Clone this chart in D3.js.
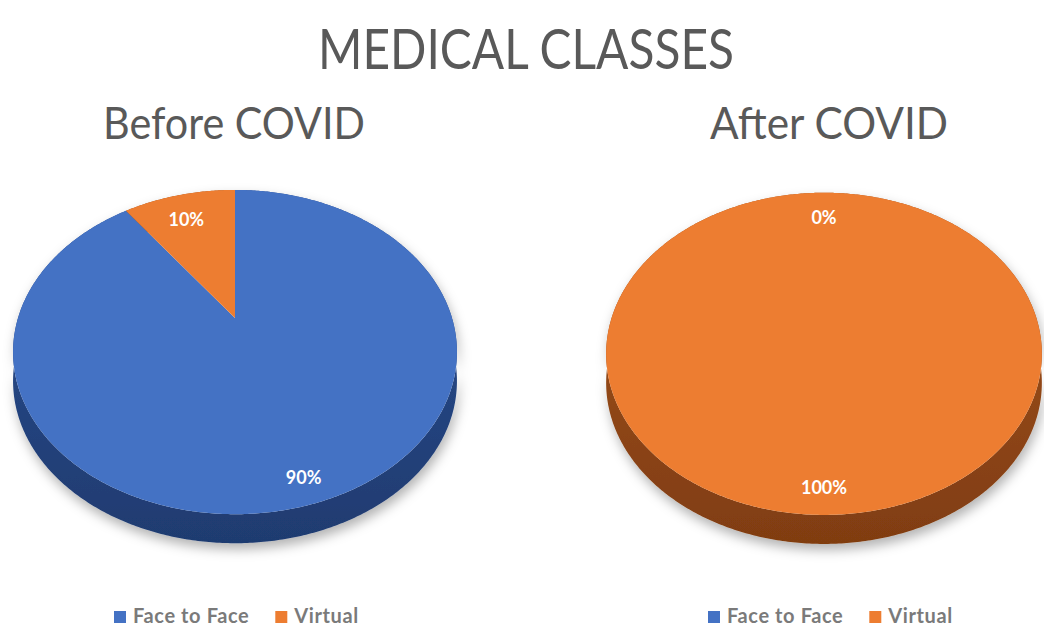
<!DOCTYPE html>
<html>
<head>
<meta charset="utf-8">
<script src="https://cdn.jsdelivr.net/npm/d3@7"></script>
<style>
  body { margin: 0; background: #fff; }
  svg { display: block; font-family: Lato, "Open Sans", sans-serif; }
</style>
</head>
<body>
<svg id="chart" width="1044" height="628"></svg>
<script>
const categories = ['Face to Face', 'Virtual'];
const pieTitles = ['Before COVID', 'After COVID'];
const beforeValues = [90, 10];
const afterValues = [0, 100];
const colors = ['#4472c4', '#ed7d31'];
const sideTop = ['#2c5093', '#a5531d'];
const sideBottom = ['#1f3b70', '#803d11'];

const svg = d3.select('#chart');

// perspective settings for the tilted pies
const K = 0.21, DEPTH = 29, LABEL_R = 0.85;
const pies = [
  { title: pieTitles[0], values: beforeValues, cx: 235, cy: 318, a: 217, b: 155, tx: 234, tw: 262, lx: 114 },
  { title: pieTitles[1], values: afterValues, cx: 824, cy: 320, a: 213, b: 154, tx: 829, tw: 238, lx: 708 }
];

const defs = svg.append('defs');
defs.append('filter')
  .attr('id', 'shadow')
  .attr('x', '-20%').attr('y', '-20%').attr('width', '140%').attr('height', '150%')
  .append('feDropShadow')
  .attr('dx', 2).attr('dy', 6).attr('stdDeviation', 6)
  .attr('flood-color', '#000').attr('flood-opacity', 0.3);
colors.forEach((c, i) => {
  let g = defs.append('linearGradient')
    .attr('id', `side-${i}`)
    .attr('x1', 0).attr('y1', 0).attr('x2', 0).attr('y2', 1);
  g.append('stop').attr('offset', '0%').attr('stop-color', sideTop[i]);
  g.append('stop').attr('offset', '100%').attr('stop-color', sideBottom[i]);
});

svg.append('text')
  .attr('x', 526).attr('y', 69)
  .attr('text-anchor', 'middle')
  .attr('font-size', 56)
  .attr('textLength', 416).attr('lengthAdjust', 'spacingAndGlyphs')
  .attr('fill', '#595959')
  .text('MEDICAL CLASSES');

const pie = d3.pie().sort(null).value(d => d);
const line = d3.line();

pies.forEach(p => {
  function proj(t, r) {
    let u = Math.sin(t) * r, v = -Math.cos(t) * r, w = 1 - K * v;
    return [p.cx + p.a * u / w, p.cy + p.b * v / w];
  }
  function arcPoints(a0, a1, r) {
    let n = Math.max(2, Math.ceil((a1 - a0) / 0.01));
    return d3.range(n + 1).map(i => proj(a0 + (a1 - a0) * i / n, r));
  }

  let arcs = pie(p.values),
    g = svg.append('g');

  g.append('text')
    .attr('x', p.tx).attr('y', 139)
    .attr('text-anchor', 'middle')
    .attr('font-size', 44)
    .attr('textLength', p.tw).attr('lengthAdjust', 'spacingAndGlyphs')
    .attr('fill', '#595959')
    .text(p.title);

  // side walls, drawn first so the top faces cover the back
  let sides = g.append('g').attr('filter', 'url(#shadow)');
  arcs.forEach((d, i) => {
    if (d.endAngle - d.startAngle <= 0) return;
    let top = arcPoints(d.startAngle, d.endAngle, 1),
      bottom = top.map(([x, y]) => [x, y + DEPTH]).reverse();
    sides.append('path')
      .attr('d', line(top.concat(bottom)) + 'Z')
      .attr('fill', `url(#side-${i})`);
  });

  arcs.forEach((d, i) => {
    if (d.endAngle - d.startAngle <= 0) return;
    let pts = arcPoints(d.startAngle, d.endAngle, 1);
    if (d.endAngle - d.startAngle < 2 * Math.PI - 1e-6) pts.push(proj(0, 0));
    g.append('path')
      .attr('d', line(pts) + 'Z')
      .attr('fill', colors[i]);
  });

  arcs.forEach(d => {
    let [x, y] = proj((d.startAngle + d.endAngle) / 2, LABEL_R);
    g.append('text')
      .attr('x', x).attr('y', y + 15)
      .attr('text-anchor', 'middle')
      .attr('font-size', 18)
      .attr('font-weight', 'bold')
      .attr('fill', '#fff')
      .text(d.data + '%');
  });

  // legend
  let lg = g.append('g').attr('transform', `translate(${p.lx},0)`),
    x = 0;
  categories.forEach((c, i) => {
    lg.append('rect')
      .attr('x', x).attr('y', 611)
      .attr('width', 12).attr('height', 12)
      .attr('fill', colors[i]);
    let t = lg.append('text')
      .attr('x', x + 19).attr('y', 623)
      .attr('font-size', 20)
      .attr('font-weight', 'bold')
      .attr('letter-spacing', 0.6)
      .attr('fill', '#7a7a7a')
      .text(c);
    x += 19 + t.node().getComputedTextLength() + 26;
  });
});
</script>
</body>
</html>
